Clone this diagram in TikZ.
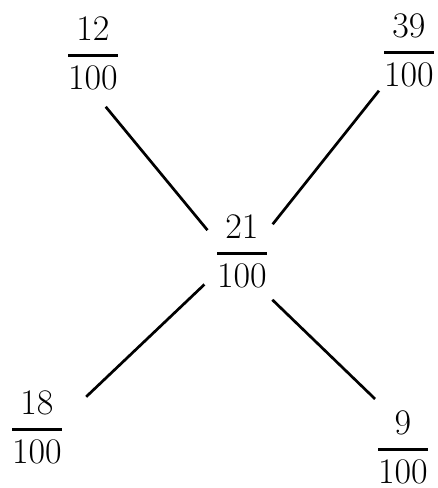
\RequirePackage{fix-cm}
\documentclass[tikz,border=0pt]{standalone}
\usepackage{amsmath}
\newcommand{\bigfrac}[2]{\genfrac{}{}{2.4pt}{0}{#1}{#2}}
\begin{document}
\begin{tikzpicture}[x=1pt,y=-1pt]
	\useasboundingbox (0,0) rectangle (438,488);
	\tikzset{frac/.style={inner sep=2pt, font=\fontsize{36}{42}\selectfont},
		link/.style={line width=2.7pt}}
	
	\node[frac] (c) at (242,251){$\bigfrac{21}{100}$};
	\node[frac] (tl) at (93,53){$\bigfrac{12}{100}$};
	\node[frac] (tr) at (409,50){$\bigfrac{39}{100}$};
	\node[frac] (bl) at (37,427){$\bigfrac{18}{100}$};
	\node[frac] (br) at (403,447){$\bigfrac{9}{100}$};
	
	\draw[link, shorten <=20pt, shorten >=10pt] (tl.south) -- (c.155);
	\draw[link, shorten <=3pt, shorten >=4pt] (tr.south west) -- (c.40);
	\draw[link, shorten <=13pt, shorten >=29pt] (c.221) -- (bl.20);
	\draw[link, shorten <=15pt, shorten >=14pt] (c.-63) -- (br.115);
\end{tikzpicture}
\end{document}
